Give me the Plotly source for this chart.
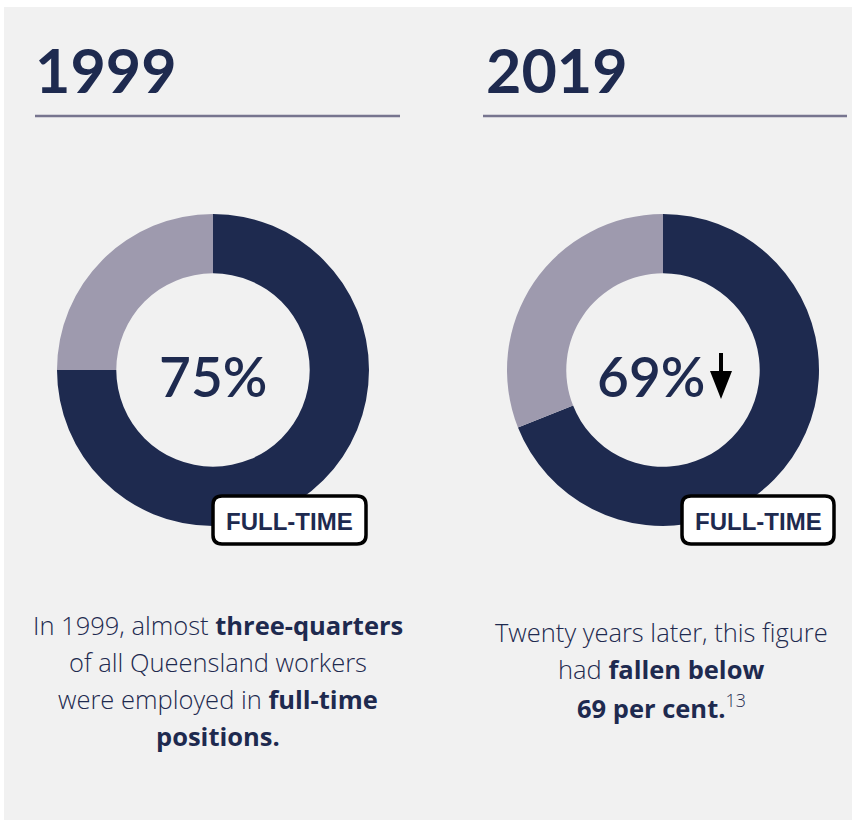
import plotly.graph_objects as go

W, H = 856, 823

years = ["1999", "2019"]
full_time_pct = [75, 69]
other_pct = [25, 31]
centre_labels = ["75%", "69%"]
badge_label = "FULL-TIME"
captions = [
    ["In 1999, almost <b>three-quarters</b>",
     "of all Queensland workers",
     "were employed in <b>full-time</b>",
     "<b>positions.</b>"],
    ["Twenty years later, this figure",
     "had <b>fallen below</b>",
     "<b>69 per cent.</b><sup>13</sup>"],
]

NAVY = "#1e2a4f"
LIGHT = "#9e9aae"
BG = "#f1f1f1"
RULE = "#77758f"

def px(x):
    return x / W

def py(y):
    return 1 - y / H

fig = go.Figure()

centres = [213, 663]
R = 156
cy = 370
for i in range(2):
    cx = centres[i]
    fig.add_trace(go.Pie(
        values=[full_time_pct[i], other_pct[i]],
        labels=["Full-time", "Other"],
        marker=dict(colors=[NAVY, LIGHT], line=dict(width=0)),
        hole=0.62,
        sort=False,
        direction="clockwise",
        rotation=0,
        textinfo="none",
        hoverinfo="none",
        showlegend=False,
        domain=dict(x=[px(cx - R), px(cx + R)], y=[py(cy + R), py(cy - R)]),
    ))

shapes = []
# grey panel
shapes.append(dict(type="rect", xref="paper", yref="paper",
                   x0=px(4), x1=px(852), y0=py(820), y1=py(7),
                   fillcolor=BG, line=dict(width=0), layer="below"))
# rules under titles
for x0, x1 in [(35, 400), (483, 847)]:
    shapes.append(dict(type="line", xref="paper", yref="paper",
                       x0=px(x0), x1=px(x1), y0=py(116), y1=py(116),
                       line=dict(color=RULE, width=2.5)))

def rounded_box(x0, y0, x1, y1, r):
    pts = [
        f"M{px(x0 + r)},{py(y0)}",
        f"L{px(x1 - r)},{py(y0)}",
        f"Q{px(x1)},{py(y0)} {px(x1)},{py(y0 + r)}",
        f"L{px(x1)},{py(y1 - r)}",
        f"Q{px(x1)},{py(y1)} {px(x1 - r)},{py(y1)}",
        f"L{px(x0 + r)},{py(y1)}",
        f"Q{px(x0)},{py(y1)} {px(x0)},{py(y1 - r)}",
        f"L{px(x0)},{py(y0 + r)}",
        f"Q{px(x0)},{py(y0)} {px(x0 + r)},{py(y0)}",
        "Z",
    ]
    return " ".join(pts)

badges = [(213, 496, 366, 544), (682, 496, 834, 544)]
for (x0, y0, x1, y1) in badges:
    shapes.append(dict(type="path", xref="paper", yref="paper",
                       path=rounded_box(x0, y0, x1, y1, 9),
                       fillcolor="white", line=dict(color="black", width=3.5)))

# down arrow next to 69%
ax = 721
arrow = (f"M{px(ax - 2)},{py(353)} L{px(ax + 2)},{py(353)} "
         f"L{px(ax + 2)},{py(371)} L{px(ax + 11)},{py(371)} "
         f"L{px(ax)},{py(399)} L{px(ax - 11)},{py(371)} "
         f"L{px(ax - 2)},{py(371)} Z")
shapes.append(dict(type="path", xref="paper", yref="paper", path=arrow,
                   fillcolor="black", line=dict(width=0)))

ann = []
title_x = [33, 484]
for i in range(2):
    ann.append(dict(text=f"<b>{years[i]}</b>", x=px(title_x[i]), y=py(70),
                    xref="paper", yref="paper", xanchor="left", yanchor="middle",
                    showarrow=False,
                    font=dict(family="Lato", size=61, color=NAVY)))
centre_x = [213, 651]
for i in range(2):
    ann.append(dict(text=centre_labels[i], x=px(centre_x[i]), y=py(376),
                    xref="paper", yref="paper", xanchor="center", yanchor="middle",
                    showarrow=False,
                    font=dict(family="Lato", size=55, color=NAVY, weight=600)))
for (x0, y0, x1, y1) in badges:
    ann.append(dict(text=f"<b>{badge_label}</b>", x=px((x0 + x1) / 2), y=py((y0 + y1) / 2 + 1),
                    xref="paper", yref="paper", xanchor="center", yanchor="middle",
                    showarrow=False,
                    font=dict(family="Liberation Sans", size=24, color=NAVY)))

cap_x = [218, 661]
cap_y0 = [625, 632]
for i in range(2):
    for j, line in enumerate(captions[i]):
        ann.append(dict(text=line, x=px(cap_x[i]), y=py(cap_y0[i] + j * 37),
                        xref="paper", yref="paper", xanchor="center", yanchor="middle",
                        showarrow=False,
                        font=dict(family="Open Sans", size=25.5, color=NAVY, weight=300)))

fig.update_layout(
    width=W, height=H,
    margin=dict(l=0, r=0, t=0, b=0),
    paper_bgcolor="white",
    plot_bgcolor="white",
    shapes=shapes,
    annotations=ann,
)

fig.write_html("out.html",
               config={"displayModeBar": False},
               post_script="document.body.style.margin='0px';document.body.style.padding='0px';")
